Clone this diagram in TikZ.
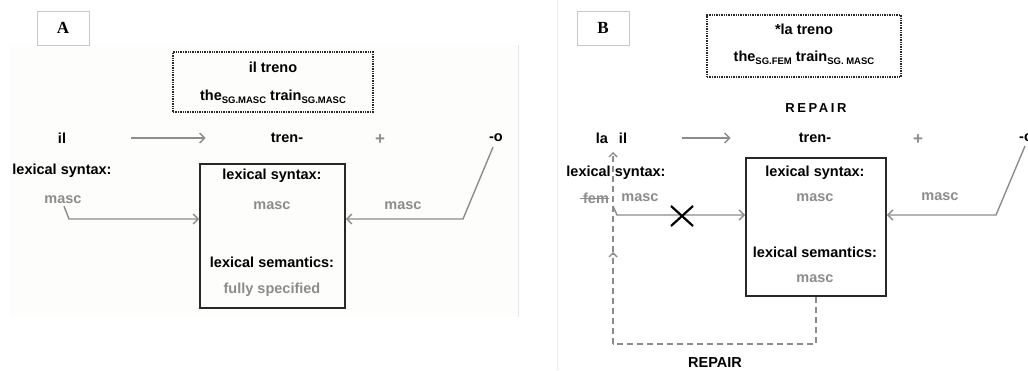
\documentclass[tikz,border=0pt]{standalone}
\usepackage{fontspec}
\usepackage{tikz}
\usetikzlibrary{arrows.meta}
\usetikzlibrary{positioning}
\setmainfont{Liberation Sans}
\newfontfamily\labelfont{Liberation Serif}
\definecolor{grey}{RGB}{140,140,140}
\definecolor{boxline}{RGB}{40,40,40}
\definecolor{pinkline}{RGB}{236,184,192}
\definecolor{panelbg}{RGB}{253,253,252}
\newcommand\glosssub[1]{\raisebox{-3pt}{\fontsize{9.5}{10}\selectfont #1}}

\begin{document}
\begin{tikzpicture}[x=1pt, y=-1pt,
    lbl/.style = {font=\bfseries\fontsize{14.5}{17}\selectfont, inner sep=0pt},
    val/.style = {lbl, text=grey},
    flow/.style = {draw=grey, line width=1.4pt, -{Straight Barb[length=5pt,width=10pt]}},
    repair/.style = {draw=grey, line width=1.4pt, dash pattern=on 6pt off 4pt},
    repairtip/.style = {repair, -{Straight Barb[length=4pt,width=8pt]}},
    featbox/.style = {draw=boxline, line width=1.8pt, inner sep=0pt},
    glossbox/.style = {draw=boxline, line width=1.8pt, dash pattern=on 1.4pt off 1pt, inner sep=0pt},
    panellabel/.style = {draw=pinkline, line width=0.9pt, minimum width=52pt, minimum height=34pt,
        font=\labelfont\bfseries\fontsize{17}{20}\selectfont}]
    \useasboundingbox[fill=white] (0,0) rectangle (1028,370);
    \fill[panelbg] (10,45) rectangle (518,317);
    \draw[black!10, line width=0.8pt] (518,45) -- (518,317);
    \draw[black!7, line width=0.8pt] (557,0) -- (557,370);

    % A
    \node[panellabel] (labA) at (63,28) {A};
    \node[glossbox, minimum width=200pt, minimum height=60pt] (glossA) at (273,82) {};
    \node[lbl] (gwordA) at (273,67) {il treno};
    \node[lbl] (glineA) at (273,97) {the\glosssub{SG.MASC} train\glosssub{SG.MASC}};
    \node[lbl] (ilA) at (62,138) {il};
    \node[lbl] (trenA) at (287,138) {tren-};
    \node[val, font=\bfseries\fontsize{17}{17}\selectfont] (plusA) at (380,140) {+};
    \node[lbl] (oA) at (496,138) {-o};
    \node[lbl] (synA) at (62,171) {lexical syntax:};
    \node[val] (mascA) at (63,200) {masc};
    \node[featbox, minimum width=145pt, minimum height=144pt] (featA) at (272.5,236) {};
    \node[lbl] (fsynA) at (272,176) {lexical syntax:};
    \node[val] (fsynvalA) at (272,206) {masc};
    \node[lbl] (fsemA) at (272,262) {lexical semantics:};
    \node[val] (fsemvalA) at (272,290) {fully specified};
    \node[val] (omascA) at (403,206) {masc};
    \coordinate (lbendA) at (69,219);
    \coordinate (rbendA) at (463,219);
    \draw[flow] ([xshift=65pt]ilA.east) -- ([xshift=-65pt]trenA.west);
    \draw[flow] ([xshift=1pt,yshift=-2pt]mascA.south) -- (lbendA) -- (featA.west |- lbendA);
    \draw[flow] ([xshift=-3pt,yshift=-5pt]oA.south) -- (rbendA) -- (featA.east |- rbendA);

    % B
    \node[panellabel] (labB) at (603,28) {B};
    \node[glossbox, minimum width=194pt, minimum height=62pt] (glossB) at (804,46) {};
    \node[lbl] (gwordB) at (804,29) {*la treno};
    \node[lbl] (glineB) at (804,58) {the\glosssub{SG.FEM} train\glosssub{SG. MASC}};
    \node[lbl, font=\bfseries\fontsize{13}{15}\selectfont\addfontfeature{LetterSpace=20}] (repairtop) at (816,108) {REPAIR};
    \node[lbl] (laB) at (602,138) {la};
    \node[lbl] (ilB) at (623,138) {il};
    \node[lbl] (trenB) at (815,138) {tren-};
    \node[val, font=\bfseries\fontsize{17}{17}\selectfont] (plusB) at (918,140) {+};
    \node[lbl, anchor=west] (oB) at (1019,138) {-o};
    \node[lbl] (synB) at (616,173) {lexical syntax:};
    \node[val] (femB) at (596,198) {fem};
    \draw[grey, line width=1pt] ([xshift=-3pt]femB.west) -- (femB.east);
    \node[val] (mascB) at (640,198) {masc};
    \node[featbox, minimum width=140pt, minimum height=138pt] (featB) at (816,227) {};
    \node[lbl] (fsynB) at (815,173) {lexical syntax:};
    \node[val] (fsynvalB) at (815,198) {masc};
    \node[lbl] (fsemB) at (815,252) {lexical semantics:};
    \node[val] (fsemvalB) at (815,279) {masc};
    \node[val] (omascB) at (940,197) {masc};
    \node[lbl] (repairbot) at (715,363) {REPAIR};
    \coordinate (lbendB) at (617,215);
    \coordinate (rbendB) at (996,215);
    \coordinate (blockB) at (682,216);
    \draw[flow] ([xshift=55pt]ilB.east) -- ([xshift=-68pt]trenB.west);
    \draw[flow] (613,206) -- (lbendB) -- (featB.west |- lbendB);
    \draw[flow] (1025,146) -- (rbendB) -- (featB.east |- rbendB);
    \draw[black, line width=2.2pt] ([shift={(-11pt,10pt)}]blockB) -- ([shift={(11pt,-10pt)}]blockB)
        ([shift={(-11pt,-10pt)}]blockB) -- ([shift={(11pt,10pt)}]blockB);
    \coordinate (repairB) at (613,344);
    \coordinate (repairmid) at (613,252);
    \coordinate (repairend) at (613,152);
    \draw[repair] (featB.south) -- (featB.south |- repairB) -- (repairB);
    \draw[repairtip] (repairB) -- (repairmid);
    \draw[repairtip] (repairmid) -- (repairend);
\end{tikzpicture}
\end{document}
